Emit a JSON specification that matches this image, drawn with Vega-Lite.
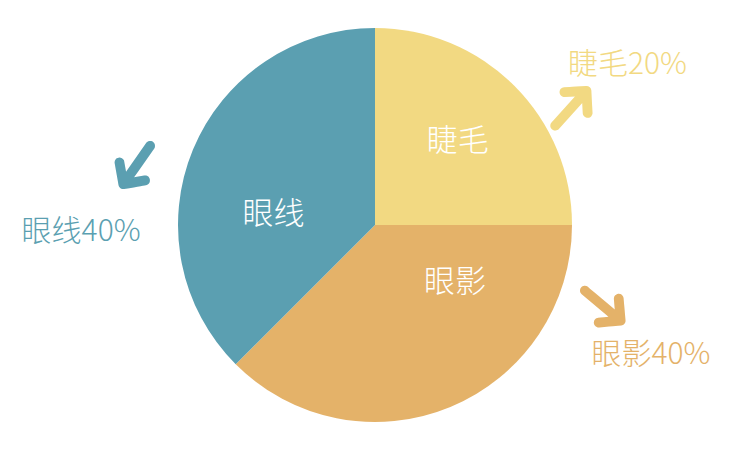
{
  "$schema": "https://vega.github.io/schema/vega-lite/v6.json",
  "width": 750,
  "height": 450,
  "autosize": {"type": "fit", "contains": "padding"},
  "padding": 0,
  "background": "#ffffff",
  "view": {"stroke": null},
  "datasets": {
    "slices": [
      {"name": "睫毛", "value": 25},
      {"name": "眼影", "value": 37.5},
      {"name": "眼线", "value": 37.5}
    ],
    "inner": [
      {"name": "睫毛", "label": "睫毛", "t": 12.5, "r": 117},
      {"name": "眼影", "label": "眼影", "t": 35.0, "r": 99},
      {"name": "眼线", "label": "眼线", "t": 76.5, "r": 102}
    ],
    "outer": [
      {"name": "睫毛", "label": "睫毛20%", "t": 16.0, "r": 299},
      {"name": "眼影", "label": "眼影40%", "t": 32.0, "r": 305},
      {"name": "眼线", "label": "眼线40%", "t": 74.6, "r": 294}
    ],
    "arrows": [
      {"name": "睫毛", "glyph": "➜", "t": 16.5, "r": 229, "dir": 312},
      {"name": "眼影", "glyph": "➜", "t": 30.5, "r": 242, "dir": 40},
      {"name": "眼线", "glyph": "➜", "t": 78.9, "r": 247, "dir": 125}
    ]
  },
  "layer": [
    {
      "data": {"name": "slices"},
      "mark": {"type": "arc", "outerRadius": 197, "stroke": null},
      "encoding": {
        "theta": {"field": "value", "type": "quantitative", "stack": true, "scale": {"domain": [0, 100]}},
        "order": {"field": "value", "type": "quantitative", "sort": "ascending"},
        "color": {
          "field": "name", "type": "nominal",
          "scale": {"domain": ["睫毛", "眼影", "眼线"], "range": ["#F2D982", "#E4B269", "#5B9FB1"]},
          "legend": null
        }
      }
    },
    {
      "data": {"name": "inner"},
      "mark": {"type": "text", "font": "Noto Sans CJK SC", "fontWeight": 300, "fontSize": 31, "color": "#ffffff", "align": "center", "baseline": "middle"},
      "encoding": {
        "theta": {"field": "t", "type": "quantitative", "stack": null, "scale": {"domain": [0, 100]}},
        "radius": {"field": "r", "type": "quantitative", "scale": {"type": "linear", "domain": [0, 400], "range": [0, 400], "zero": true}},
        "text": {"field": "label"}
      }
    },
    {
      "data": {"name": "outer"},
      "mark": {"type": "text", "font": "Noto Sans CJK SC", "fontWeight": 300, "fontSize": 30, "align": "center", "baseline": "middle"},
      "encoding": {
        "theta": {"field": "t", "type": "quantitative", "stack": null, "scale": {"domain": [0, 100]}},
        "radius": {"field": "r", "type": "quantitative", "scale": {"type": "linear", "domain": [0, 400], "range": [0, 400], "zero": true}},
        "text": {"field": "label"},
        "color": {"field": "name", "type": "nominal", "legend": null}
      }
    },
    {
      "data": {"name": "arrows"},
      "mark": {"type": "text", "font": "DejaVu Sans", "fontSize": 80, "align": "center", "baseline": "middle"},
      "encoding": {
        "theta": {"field": "t", "type": "quantitative", "stack": null, "scale": {"domain": [0, 100]}},
        "radius": {"field": "r", "type": "quantitative", "scale": {"type": "linear", "domain": [0, 400], "range": [0, 400], "zero": true}},
        "angle": {"field": "dir", "type": "quantitative", "scale": {"domain": [0, 360], "range": [0, 360]}},
        "text": {"field": "glyph"},
        "color": {"field": "name", "type": "nominal", "legend": null}
      }
    }
  ]
}
